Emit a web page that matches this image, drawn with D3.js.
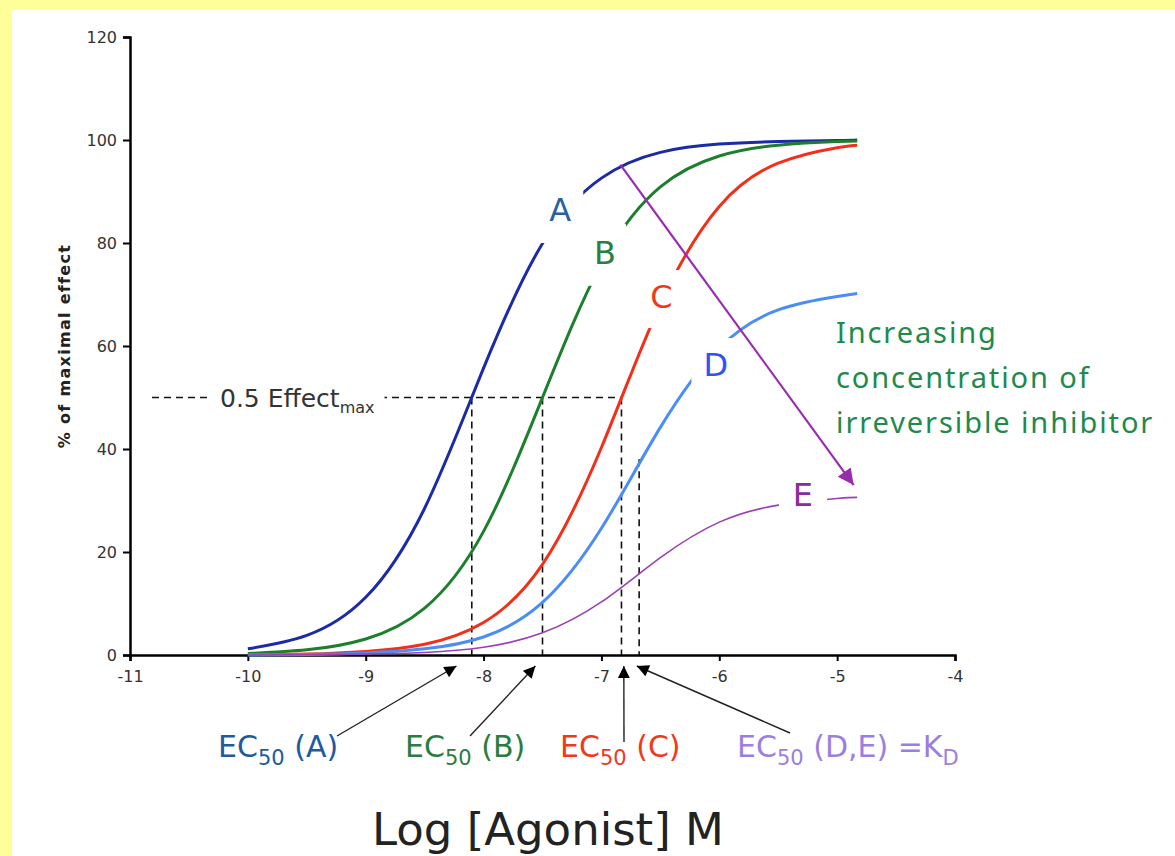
<!DOCTYPE html>
<html>
<head>
<meta charset="utf-8">
<script src="https://cdn.jsdelivr.net/npm/d3@7"></script>
<style>
  body { margin: 0; background: #ffff99; }
  svg { display: block; }
</style>
</head>
<body>
<div class="chart"></div>
<script>
// values (log dose vs % of maximal effect)
var logDose = [-10, -9.5, -9, -8.5, -8, -7.5, -7, -6.5, -6, -5.5, -5, -4.83];
var curveA = [1.2, 3.8, 11.2, 28.5, 55.7, 79.9, 92.6, 97.6, 99.2, 99.7, 99.9, 100];
var curveB = [0.3, 1.0, 3.1, 9.1, 24.0, 50.0, 76.0, 90.9, 96.9, 99.0, 99.7, 99.8];
var curveC = [0.1, 0.2, 0.7, 2.1, 6.3, 17.6, 40.3, 68.1, 87.1, 95.5, 98.5, 99.0];
var curveD = [0.0, 0.1, 0.4, 1.2, 3.5, 10.2, 24.6, 44.2, 59.6, 67.0, 69.6, 70.2];
var curveE = [0.0, 0.1, 0.2, 0.5, 1.5, 4.3, 10.3, 18.9, 25.8, 29.1, 30.4, 30.6];

var curveNames = ["A", "B", "C", "D", "E"];
var curveLabelX = [-7.35, -6.97, -6.49, -6.03, -5.29];
var curveLabelY = [86.4, 78.1, 69.5, 56.3, 31.1];

var ec50Names = ["A", "B", "C", "D,E"];
var ec50Values = [-8.1, -7.5, -6.83, -6.68];
var ec50Tops = [50, 50, 50, 38];

var xTicks = [-11, -10, -9, -8, -7, -6, -5, -4];
var yTicks = [0, 20, 40, 60, 80, 100, 120];

var lineColors = ["#1b2ba6", "#1d7f2e", "#f2301a", "#4a8df5", "#9a3fb4"];
var lineWidths = [3, 3, 3, 3, 1.6];
var labelColors = ["#2b5f9e", "#2a8042", "#f0391c", "#2f55ee", "#8c2aa0"];
var ecColors = ["#1f5a9c", "#2a7d40", "#f0391c", "#9b7fe0"];

var svgWidth = 1175;
var svgHeight = 856;

var svg = d3.select(".chart")
  .append("svg")
  .attr("width", svgWidth)
  .attr("height", svgHeight);

// yellow slide frame + white panel
svg.append("rect").attr("width", svgWidth).attr("height", svgHeight).attr("fill", "#ffff99");
svg.append("rect").attr("x", 12).attr("y", 10).attr("width", svgWidth - 12).attr("height", svgHeight - 10).attr("fill", "#ffffff");

var xScale = d3.scaleLinear().domain([-11, -4]).range([130, 955]);
var yScale = d3.scaleLinear().domain([0, 120]).range([655, 37]);

var defs = svg.append("defs");
defs.append("marker")
  .attr("id", "blackHead")
  .attr("markerUnits", "userSpaceOnUse")
  .attr("viewBox", "0 0 10 10")
  .attr("refX", 10).attr("refY", 5)
  .attr("markerWidth", 14).attr("markerHeight", 12)
  .attr("orient", "auto")
  .append("path").attr("d", "M0,0 L10,5 L0,10 Z").attr("fill", "#000");
defs.append("marker")
  .attr("id", "purpleHead")
  .attr("markerUnits", "userSpaceOnUse")
  .attr("viewBox", "0 0 10 10")
  .attr("refX", 10).attr("refY", 5)
  .attr("markerWidth", 22).attr("markerHeight", 16)
  .attr("orient", "auto")
  .append("path").attr("d", "M0,0 L10,5 L0,10 Z").attr("fill", "#9a2aae");

// axes
var bottomAxis = d3.axisBottom(xScale)
  .tickValues(xTicks)
  .tickFormat(function(d) { return String(d); })
  .tickSizeOuter(0)
  .tickSize(6)
  .tickPadding(10);
var leftAxis = d3.axisLeft(yScale)
  .tickValues(yTicks)
  .tickSizeOuter(0)
  .tickSize(7)
  .tickPadding(6);

var xAxis = svg.append("g")
  .attr("transform", "translate(0," + yScale(0) + ")")
  .call(bottomAxis);
var yAxis = svg.append("g")
  .attr("transform", "translate(" + xScale(-11) + ",0)")
  .call(leftAxis);

[xAxis, yAxis].forEach(function(ax) {
  ax.select(".domain").attr("stroke-width", 2.5);
  ax.selectAll(".tick line").attr("stroke-width", 2);
  ax.selectAll(".tick text")
    .attr("font-family", "DejaVu Sans, Verdana, sans-serif")
    .attr("font-size", 16)
    .attr("fill", "#333");
});

svg.append("text")
  .attr("transform", "translate(70," + yScale(60) + ") rotate(-90)")
  .attr("text-anchor", "middle")
  .attr("font-family", "DejaVu Sans, Verdana, sans-serif")
  .attr("font-weight", "bold")
  .attr("font-size", 16)
  .attr("letter-spacing", 1.3)
  .attr("fill", "#222")
  .text("% of maximal effect");

// dashed guides at half-max
var dash = "7,5";
svg.append("line")
  .attr("x1", 152).attr("x2", xScale(ec50Values[2]))
  .attr("y1", yScale(50)).attr("y2", yScale(50))
  .attr("stroke", "#111").attr("stroke-width", 1.6).attr("stroke-dasharray", dash);

ec50Values.forEach(function(v, i) {
  svg.append("line")
    .attr("x1", xScale(v)).attr("x2", xScale(v))
    .attr("y1", yScale(ec50Tops[i])).attr("y2", yScale(0))
    .attr("stroke", "#111").attr("stroke-width", 1.6).attr("stroke-dasharray", dash);
});

var halfLabel = svg.append("text")
  .attr("x", 220).attr("y", yScale(50) + 9)
  .attr("font-family", "DejaVu Sans, Verdana, sans-serif")
  .attr("font-size", 25)
  .attr("fill", "#333");
halfLabel.append("tspan").text("0.5 Effect");
halfLabel.append("tspan").attr("font-size", 16).attr("dy", 6).text("max");
var hb = halfLabel.node().getBBox();
svg.insert("rect", function() { return halfLabel.node(); })
  .attr("x", hb.x - 12).attr("y", hb.y).attr("width", hb.width + 22).attr("height", hb.height)
  .attr("fill", "#fff");

// curves
var allCurves = [curveA, curveB, curveC, curveD, curveE];
var line = d3.line()
  .x(function(d, i) { return xScale(logDose[i]); })
  .y(function(d) { return yScale(d); })
  .curve(d3.curveNatural);

allCurves.forEach(function(c, i) {
  svg.append("path")
    .datum(c)
    .attr("d", line)
    .attr("fill", "none")
    .attr("stroke", lineColors[i])
    .attr("stroke-width", lineWidths[i]);
});

// curve letters with white knock-out behind them
var padX = [12, 10, 10, 12, 14];
var padY = [14, 14, 12, 12, 4];
curveNames.forEach(function(n, i) {
  var t = svg.append("text")
    .attr("x", xScale(curveLabelX[i]))
    .attr("y", yScale(curveLabelY[i]) + 11)
    .attr("text-anchor", "middle")
    .attr("font-family", "DejaVu Sans, Verdana, sans-serif")
    .attr("font-size", 32)
    .attr("fill", labelColors[i])
    .text(n);
  var b = t.node().getBBox();
  svg.insert("rect", function() { return t.node(); })
    .attr("x", b.x - padX[i]).attr("y", b.y + 4 - padY[i])
    .attr("width", b.width + 2 * padX[i]).attr("height", b.height - 4 + 2 * padY[i])
    .attr("fill", "#fff");
});

// purple arrow: increasing inhibitor
svg.append("line")
  .attr("x1", xScale(-6.84)).attr("y1", yScale(95.2))
  .attr("x2", xScale(-4.86)).attr("y2", yScale(33))
  .attr("stroke", "#9a2aae").attr("stroke-width", 2.2)
  .attr("marker-end", "url(#purpleHead)");

var note = ["Increasing", "concentration of", "irreversible inhibitor"];
svg.append("text")
  .attr("x", 836).attr("y", 343)
  .attr("font-family", "Noto Sans, sans-serif")
  .attr("font-size", 29)
  .attr("letter-spacing", 1.9)
  .attr("fill", "#1e8a4c")
  .selectAll("tspan")
  .data(note)
  .enter()
  .append("tspan")
  .attr("x", 836)
  .attr("dy", function(d, i) { return i === 0 ? 0 : 45; })
  .text(function(d) { return d; });

// EC50 arrows and labels below the axis
var arrowTips = [-8.23, -7.56, -6.81, -6.7];
var arrowTails = [[337, 736], [470, 736], [624, 742], [790, 733]];
var ecLabelX = [218, 405, 560, 737];

ec50Names.forEach(function(n, i) {
  svg.append("line")
    .attr("x1", arrowTails[i][0]).attr("y1", arrowTails[i][1])
    .attr("x2", xScale(arrowTips[i])).attr("y2", yScale(0) + 11)
    .attr("stroke", "#222").attr("stroke-width", 1.4)
    .attr("marker-end", "url(#blackHead)");

  var t = svg.append("text")
    .attr("x", ecLabelX[i]).attr("y", 757)
    .attr("font-family", "DejaVu Sans, Verdana, sans-serif")
    .attr("font-size", 30)
    .attr("fill", ecColors[i]);
  t.append("tspan").text("EC");
  t.append("tspan").attr("font-size", 21).attr("dy", 8).text("50");
  t.append("tspan").attr("dy", -8).text(" (" + n + ")");
  if (n === "D,E") {
    t.append("tspan").text(" =K");
    t.append("tspan").attr("font-size", 21).attr("dy", 8).text("D");
  }
});

svg.append("text")
  .attr("x", 548).attr("y", 845)
  .attr("text-anchor", "middle")
  .attr("font-family", "DejaVu Sans, Verdana, sans-serif")
  .attr("font-size", 45)
  .attr("fill", "#222")
  .text("Log [Agonist] M");
</script>
</body>
</html>
